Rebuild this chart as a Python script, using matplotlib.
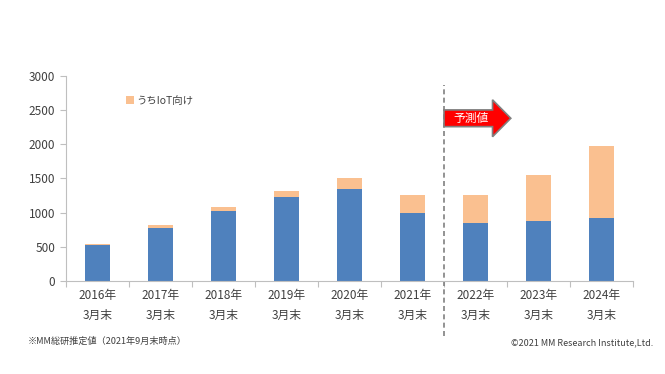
import numpy as np
import matplotlib.pyplot as plt
from matplotlib.patches import FancyArrow

plt.rcParams['font.family'] = ['Noto Sans CJK JP', 'DejaVu Sans']

years = ["2016年", "2017年", "2018年", "2019年", "2020年", "2021年", "2022年", "2023年", "2024年"]
tick_labels = [y + "\n3月末" for y in years]
base_vals = [523, 777, 1026, 1231, 1349, 997, 846, 871, 919]
total_vals = [545, 817, 1085, 1315, 1505, 1261, 1256, 1550, 1970]
iot_vals = [t - b for t, b in zip(total_vals, base_vals)]

blue = "#4F81BD"
orange = "#FAC090"
grey = "#BFBFBF"
txt = "#404040"

fig = plt.figure(figsize=(6.65, 3.74), dpi=100)
ax = fig.add_axes([0.099, 0.249, 0.853, 0.548])

x = np.arange(len(years))
ax.bar(x, base_vals, width=0.4, color=blue, linewidth=0)
ax.bar(x, iot_vals, width=0.4, bottom=base_vals, color=orange, linewidth=0,
       label="うちIoT向け")

ax.set_xlim(-0.5, len(years) - 0.5)
ax.set_ylim(0, 3000)
ax.set_yticks(np.arange(0, 3001, 500))
ax.tick_params(axis="y", labelsize=8.5, colors=txt, length=4, color=grey)

# category ticks between bars, labels at centers
ax.set_xticks(np.arange(-0.5, len(years)), minor=False)
ax.set_xticklabels([])
ax.set_xticks(x, minor=True)
ax.set_xticklabels(tick_labels, minor=True, fontsize=8.5, color=txt, linespacing=1.7)
ax.tick_params(axis="x", which="major", length=4, color=grey)
ax.tick_params(axis="x", which="minor", length=0, pad=6)

for s in ["top", "right"]:
    ax.spines[s].set_visible(False)
for s in ["left", "bottom"]:
    ax.spines[s].set_color(grey)

leg = ax.legend(loc="upper left", bbox_to_anchor=(0.09, 0.95), frameon=False,
                fontsize=7.5, handlelength=0.7, handleheight=0.7, handletextpad=0.3)
for t in leg.get_texts():
    t.set_color(txt)

# forecast separator
ax.plot([5.5, 5.5], [-800, 2870], ls=(0, (3, 2)), color="#808080", lw=1.2, clip_on=False)

arrow = FancyArrow(5.5, 2380, 1.06, 0, width=245, head_width=540, head_length=0.29,
                   length_includes_head=True, facecolor="#FF0000", edgecolor="#808080",
                   linewidth=1.2, zorder=5)
ax.add_patch(arrow)
ax.text(5.93, 2380, "予測値", color="white", fontsize=8.5, ha="center", va="center", zorder=6)

fig.text(0.042, 0.087, "※MM総研推定値（2021年9月末時点）", fontsize=6.6, color=txt, va="center")
fig.text(0.982, 0.083, "©2021 MM Research Institute,Ltd.", fontsize=6.5, color=txt,
         ha="right", va="center")

fig.savefig("out.png", dpi=100)
